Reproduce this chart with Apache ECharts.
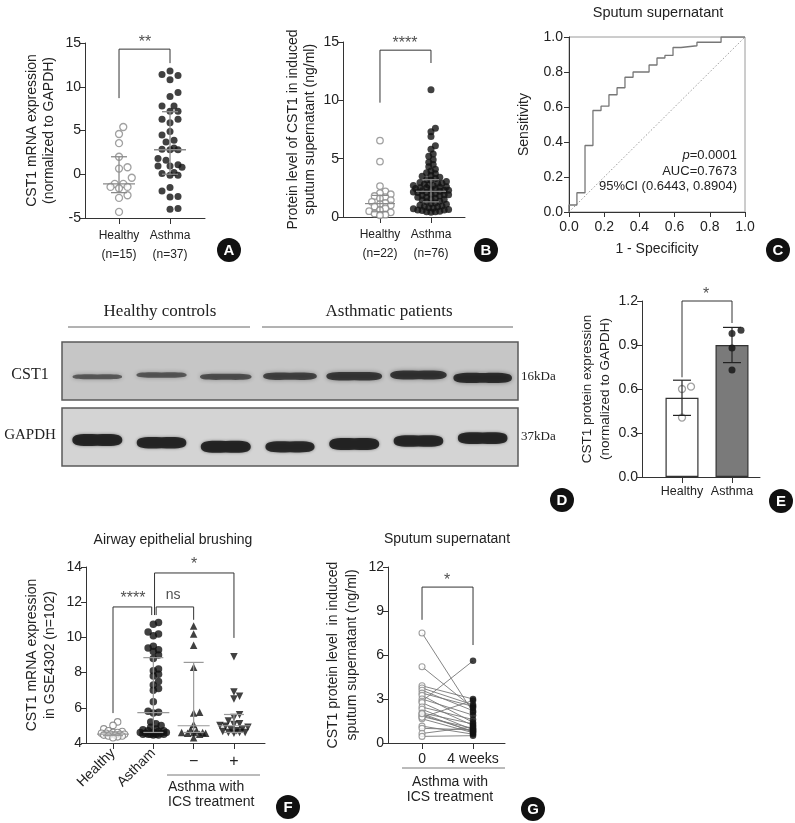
<!DOCTYPE html>
<html><head><meta charset="utf-8">
<script src="https://cdn.jsdelivr.net/npm/echarts@6/dist/echarts.min.js"></script>
<style>html,body{margin:0;padding:0;background:#fff}#c{width:795px;height:823px}</style>
</head><body><div id="c"></div>
<script>
// ================= DATA =================
// Panel A
const aCategories = ['Healthy', 'Asthma'];
const aCounts = ['(n=15)', '(n=37)'];
const aHealthy = [5.4, 4.6, 3.55, 2.0, 0.8, 0.65, -0.4, -1.1, -1.1, -1.45, -1.45, -1.6, -2.4, -2.7, -4.3];
const aAsthma = [11.8, 11.4, 11.3, 10.8, 9.35, 8.9, 7.8, 7.8, 7.2, 7.2, 6.3, 6.3, 5.9, 4.9, 4.5, 3.9, 3.7, 3.0, 2.85, 2.8, 2.8, 1.8, 1.6, 1.1, 0.95, 0.95, 0.8, 0.2, 0.1, -0.1, -0.1, -1.5, -1.9, -2.55, -2.6, -3.9, -4.0];
const aMedian = [-1.1, 2.8], aQ1 = [-2.1, 0.0], aQ3 = [2.0, 7.15];
const aYAxis = [-5, 15, 5];
// Panel B
const bCategories = ['Healthy', 'Asthma'];
const bCounts = ['(n=22)', '(n=76)'];
const bHealthy = [6.55, 4.75, 2.65, 2.2, 2.05, 1.95, 1.8, 1.7, 1.6, 1.45, 1.3, 1.2, 1.1, 1.0, 0.9, 0.75, 0.6, 0.5, 0.4, 0.3, 0.2, 0.15];
const bAsthma = [10.9, 7.6, 7.3, 6.9, 6.1, 5.8, 5.4, 5.2, 4.9, 4.7, 4.5, 4.3, 4.1, 3.95, 3.8, 3.7, 3.55, 3.5, 3.4, 3.3, 3.2, 3.15, 3.05, 2.95, 2.9, 2.9, 2.8, 2.75, 2.7, 2.7, 2.6, 2.55, 2.5, 2.5, 2.45, 2.4, 2.35, 2.3, 2.3, 2.25, 2.2, 2.15, 2.1, 2.1, 2.0, 1.95, 1.9, 1.9, 1.85, 1.8, 1.7, 1.7, 1.6, 1.55, 1.5, 1.45, 1.35, 1.3, 1.2, 1.15, 1.1, 1.0, 0.95, 0.9, 0.85, 0.8, 0.75, 0.7, 0.65, 0.6, 0.6, 0.55, 0.5, 0.45, 0.45, 0.4];
const bMedian = [1.15, 2.2], bQ1 = [0.45, 1.3], bQ3 = [1.85, 3.2];
const bYAxis = [0, 15, 5];
// Panel C (ROC)
const rocFpr = [0, 0, 0.045, 0.091, 0.136, 0.182, 0.227, 0.273, 0.318, 0.364, 0.455, 0.5, 0.545, 0.591, 0.636, 0.727, 0.864, 1.0];
const rocTpr = [0, 0.04, 0.11, 0.38, 0.58, 0.605, 0.67, 0.71, 0.77, 0.80, 0.84, 0.88, 0.895, 0.94, 0.95, 0.97, 1.0, 1.0];
const cAxis = [0, 1, 0.2];
const cStats = ['=0.0001', 'AUC=0.7673', '95%CI (0.6443, 0.8904)'];
// Panel D (western blot)
const blotGroups = ['Healthy controls', 'Asthmatic patients'];
const blotLanes = [1, 2, 3, 4, 5, 6, 7];
const cst1Intensity = [0.25, 0.3, 0.4, 0.55, 0.7, 0.75, 0.9];
const cst1BandY = [0.40, 0.43, 0.40, 0.41, 0.41, 0.43, 0.38];
const gapdhIntensity = [1.0, 0.95, 1.0, 0.9, 1.0, 0.95, 0.95];
const gapdhBandY = [0.45, 0.40, 0.33, 0.33, 0.38, 0.43, 0.48];
// Panel E
const eCategories = ['Healthy', 'Asthma'];
const eMean = [0.54, 0.90], eLow = [0.42, 0.78], eHigh = [0.66, 1.02];
const eHealthy = [0.616, 0.60, 0.405];
const eAsthma = [0.978, 1.0, 0.88, 0.73];
const eYAxis = [0, 1.2, 0.3];
// Panel F
const fCategories = ['Healthy', 'Astham', '\u2212', '+'];
const fHealthy = [5.2, 5.0, 4.8, 4.7, 4.65, 4.6, 4.6, 4.55, 4.55, 4.5, 4.5, 4.5, 4.45, 4.45, 4.4, 4.4, 4.35, 4.3];
const fAsthma = [10.85, 10.75, 10.3, 10.2, 10.1, 9.5, 9.4, 9.3, 9.2, 9.0, 8.8, 8.2, 8.1, 7.9, 7.8, 7.5, 7.3, 7.1, 7.0, 6.35, 5.8, 5.75, 5.7, 5.2, 5.1, 5.0, 4.9, 4.8, 4.75, 4.7, 4.65, 4.6, 4.6, 4.55, 4.55, 4.5, 4.5, 4.5, 4.5, 4.45, 4.45, 4.5, 4.6, 4.7];
const fNoICS = [10.65, 10.2, 9.55, 8.3, 5.75, 5.7, 5.05, 4.75, 4.7, 4.6, 4.6, 4.55, 4.55, 4.5, 4.3, 4.6];
const fICS = [8.9, 6.9, 6.65, 6.5, 5.6, 5.45, 5.25, 5.1, 5.05, 5.0, 4.95, 4.9, 4.8, 4.75, 4.7, 4.65, 4.6, 4.6, 4.55, 4.6];
const fMedian = [4.5, 5.73, 4.98, 4.98], fQ1 = [4.42, 4.6, 4.6, 4.6], fQ3 = [4.62, 8.85, 8.58, 5.62];
const fYAxis = [4, 14, 2];
// Panel G
const gCategories = ['0', '4 weeks'];
const gBefore = [7.5, 5.2, 3.9, 3.75, 3.6, 3.4, 3.25, 3.0, 2.85, 2.75, 2.45, 2.3, 2.05, 1.9, 1.8, 1.65, 1.75, 1.15, 1.0, 0.65, 0.45, 2.0];
const gAfter = [2.1, 2.4, 3.0, 2.6, 2.2, 2.5, 1.4, 1.9, 5.6, 1.2, 1.6, 0.9, 1.3, 0.8, 1.0, 0.7, 2.9, 0.6, 0.9, 1.1, 0.5, 0.75];
const gYAxis = [0, 12, 3];

// ================= LAYOUT / STYLE =================
const SANS = '"Liberation Sans", Arial, Helvetica, sans-serif';
const SERIF = '"Liberation Serif", "Times New Roman", serif';
const AX = '#333', TXT = '#222';
const G = {
  A: {left: 85, top: 43, width: 120, height: 175, xmin: 0.333, xmax: 2.686},
  B: {left: 343, top: 42, width: 122, height: 175, xmin: 0.275, xmax: 2.667},
  C: {left: 569, top: 37, width: 176, height: 175},
  D1: {left: 62, top: 342, width: 456, height: 58},
  D2: {left: 62, top: 408, width: 456, height: 58},
  E: {left: 642, top: 301, width: 118, height: 176, xmin: 0.2, xmax: 2.56},
  F: {left: 86, top: 567, width: 179, height: 176, xmin: 0.33, xmax: 4.77},
  G: {left: 388, top: 567, width: 117, height: 176, xmin: 0.333, xmax: 2.627}
};
function pxX(g) { return g.width / (g.xmax - g.xmin); }
function pxY(g, ax) { return g.height / (ax[1] - ax[0]); }

// beeswarm layout (pixel based) -> x jitter in axis units; half-width capped
function swarm(vals, cx, xPx, yPx, d, maxHalf) {
  const placed = [], out = [];
  const lim = maxHalf || 1e9;
  const idx = vals.map((v, i) => i).sort((a, b) => vals[a] - vals[b]);
  for (const i of idx) {
    const py = vals[i] * yPx;
    let best = null, bestGap = -1;
    for (let k = 0; k < 400; k++) {
      const s = Math.ceil(k / 2) * (k % 2 === 1 ? 1 : -1);
      const cand = s * d * 0.5;
      if (Math.abs(cand) > lim) break;
      const gap = placed.reduce((m, p) => Math.min(m, Math.hypot(p[0] - cand, p[1] - py)), 1e9);
      if (gap >= d * 0.95) { best = cand; break; }
      if (gap > bestGap + 0.01) { bestGap = gap; best = cand; }
    }
    placed.push([best, py]);
    out[i] = [cx + best / xPx, vals[i]];
  }
  return out;
}

const axisLine = {show: true, onZero: false, lineStyle: {color: AX, width: 1}};
function yAxisCfg(gi, ax, name, gap, extra) {
  return Object.assign({
    gridIndex: gi, type: 'value', min: ax[0], max: ax[1], interval: ax[2], position: 'left',
    axisLine, axisTick: {show: true, length: 5, lineStyle: {color: AX}},
    axisLabel: {color: TXT, fontSize: 14, fontFamily: SANS, margin: 4},
    splitLine: {show: false},
    name, nameLocation: 'middle', nameRotate: 90, nameGap: gap,
    nameTextStyle: {color: TXT, fontSize: 14, fontFamily: SANS, lineHeight: 17}
  }, extra || {});
}
function xCatAxis(gi, g, vals, labels, labelExtra, tickShow) {
  return {
    gridIndex: gi, type: 'value', min: g.xmin, max: g.xmax, position: 'bottom',
    axisLine: tickShow === false ? {show: false, onZero: false} : axisLine,
    axisTick: {show: tickShow !== false, length: 6, customValues: vals, lineStyle: {color: AX}},
    axisLabel: Object.assign({customValues: vals, color: TXT, fontFamily: SANS, fontSize: 12,
      formatter: v => labels[Math.round(v) - 1]}, labelExtra || {}),
    splitLine: {show: false}
  };
}

function errSeries(xi, yi, rows, halfMed, halfCap, color, z, lw) {
  return {
    type: 'custom', xAxisIndex: xi, yAxisIndex: yi, z: z, silent: true, clip: false,
    data: rows, encode: {x: 0, y: [1, 2, 3]},
    renderItem: (p, api) => {
      const x = api.value(0), m = api.value(1), lo = api.value(2), hi = api.value(3);
      const a = api.coord([x, m]), b = api.coord([x, lo]), c = api.coord([x, hi]);
      const st = {stroke: color, lineWidth: lw || 1.2, fill: null};
      const ch = [
        {type: 'line', shape: {x1: a[0], y1: b[1], x2: a[0], y2: c[1]}, style: st},
        {type: 'line', shape: {x1: a[0] - halfCap, y1: b[1], x2: a[0] + halfCap, y2: b[1]}, style: st},
        {type: 'line', shape: {x1: a[0] - halfCap, y1: c[1], x2: a[0] + halfCap, y2: c[1]}, style: st}
      ];
      if (halfMed) ch.push({type: 'line', shape: {x1: a[0] - halfMed, y1: a[1], x2: a[0] + halfMed, y2: a[1]}, style: st});
      return {type: 'group', children: ch};
    }
  };
}
function bracket(xi, yi, pts) {
  return {type: 'line', xAxisIndex: xi, yAxisIndex: yi, data: pts, symbol: 'none', silent: true, clip: false,
    lineStyle: {color: AX, width: 1}, z: 3};
}
function sigText(xi, yi, x, y, txt, size) {
  return {type: 'scatter', xAxisIndex: xi, yAxisIndex: yi, clip: false, silent: true, symbolSize: 1,
    itemStyle: {color: 'rgba(0,0,0,0)'},
    data: [{value: [x, y], name: txt}],
    label: {show: true, position: 'inside', formatter: '{b}', color: TXT, fontFamily: SANS, fontSize: size || 16}};
}
function dots(xi, yi, pts, opts) {
  return Object.assign({type: 'scatter', xAxisIndex: xi, yAxisIndex: yi, data: pts, clip: false, silent: true,
    symbolSize: 7, z: 4}, opts);
}
const openGray = {itemStyle: {color: '#fff', borderColor: '#8a8a8a', borderWidth: 1.3}};
const filled = {itemStyle: {color: '#111'}};

// ---------- build series ----------
const series = [];
// A
const gA = G.A;
series.push(errSeries(0, 0, aMedian.map((m, i) => [i + 1, m, aQ1[i], aQ3[i]]), 16, 8, '#8a8a8a', 6, 1.3));
series.push(dots(0, 0, swarm(aHealthy, 1, pxX(gA), pxY(gA, aYAxis), 8.5, 15), openGray));
series.push(dots(0, 0, swarm(aAsthma, 2, pxX(gA), pxY(gA, aYAxis), 8, 15), filled));
series.push(bracket(0, 0, [[1, 8.7], [1, 14.3], [2, 14.3], [2, 12.7]]));
series.push(sigText(0, 0, 1.51, 15.0, '**'));
// B
const gB = G.B;
series.push(errSeries(1, 1, bMedian.map((m, i) => [i + 1, m, bQ1[i], bQ3[i]]), 15, 8, '#8a8a8a', 5, 1.2));
series.push(dots(1, 1, swarm(bHealthy, 1, pxX(gB), pxY(gB, bYAxis), 5.4, 16), Object.assign({symbolSize: 6.5}, openGray)));
series.push(dots(1, 1, swarm(bAsthma, 2, pxX(gB), pxY(gB, bYAxis), 4.4, 19), Object.assign({symbolSize: 7, z: 3}, filled)));
series.push(bracket(1, 1, [[1, 9.8], [1, 14.3], [2, 14.3], [2, 13.2]]));
series.push(sigText(1, 1, 1.49, 14.9, '****'));
// C
series.push({type: 'line', xAxisIndex: 2, yAxisIndex: 2, data: [[0, 0], [1, 1]], symbol: 'none', silent: true,
  lineStyle: {color: '#9a9a9a', width: 1, type: [1.5, 2]}});
series.push({type: 'line', xAxisIndex: 2, yAxisIndex: 2, data: rocFpr.map((f, i) => [f, rocTpr[i]]), step: 'end',
  symbol: 'none', silent: true, lineStyle: {color: '#777', width: 1.3}});
// D blots
const bandPath = 'path://M0,50 C0,12 25,4 100,10 C175,4 200,12 200,50 C200,88 175,96 100,90 C25,96 0,88 0,50 Z';
function bandSeries(xi, yi, inten, ys, hBase, hGain, wBase, wGain, aBase, blur) {
  return {type: 'scatter', xAxisIndex: xi, yAxisIndex: yi, silent: true,
    data: blotLanes.map((l, i) => [l, ys[i], inten[i]]),
    symbol: bandPath,
    symbolSize: v => [wBase + wGain * v[2], hBase + hGain * v[2]],
    itemStyle: {color: p => 'rgba(12,12,12,' + (aBase + (1 - aBase) * p.value[2]).toFixed(2) + ')',
      shadowBlur: blur, shadowColor: 'rgba(0,0,0,0.55)'}};
}
series.push(bandSeries(3, 3, cst1Intensity, cst1BandY, 3, 8, 46, 14, 0.5, 4));
series.push(bandSeries(4, 4, gapdhIntensity, gapdhBandY, 4, 8, 42, 8, 0.7, 3));
// E
const gE = G.E;
series.push({type: 'bar', xAxisIndex: 5, yAxisIndex: 5, barWidth: 33, silent: true,
  data: eMean.map((m, i) => ({value: [i + 1, m], itemStyle: {color: i === 0 ? '#ffffff' : '#7a7a7a'}})),
  itemStyle: {borderColor: '#333', borderWidth: 1.2}});
series.push(errSeries(5, 5, eMean.map((m, i) => [i + 1, m, eLow[i], eHigh[i]]), 0, 9, '#222', 6, 1.2));
series.push(dots(5, 5, swarm(eHealthy, 1, pxX(gE), pxY(gE, eYAxis), 9), Object.assign({symbolSize: 7}, openGray)));
series.push(dots(5, 5, swarm(eAsthma, 2, pxX(gE), pxY(gE, eYAxis), 9), Object.assign({symbolSize: 7}, filled)));
series.push(bracket(5, 5, [[1, 0.68], [1, 1.2], [2, 1.2], [2, 1.05]]));
series.push(sigText(5, 5, 1.48, 1.245, '*'));
// F
const gF = G.F;
const fx = pxX(gF), fy = pxY(gF, fYAxis);
series.push(dots(6, 6, swarm(fHealthy, 1, fx, fy, 4.6, 13), Object.assign({symbolSize: 6.5}, {itemStyle: {color: '#fff', borderColor: '#777', borderWidth: 1.1}})));
series.push(dots(6, 6, swarm(fAsthma, 2, fx, fy, 5.2, 14), Object.assign({symbolSize: 7.5}, filled)));
series.push(dots(6, 6, swarm(fNoICS, 3, fx, fy, 6, 14), Object.assign({symbol: 'triangle', symbolSize: 7.5}, filled)));
series.push(dots(6, 6, swarm(fICS, 4, fx, fy, 5.6, 14), Object.assign({symbol: 'triangle', symbolRotate: 180, symbolSize: 7.5}, filled)));
series.push(errSeries(6, 6, fMedian.map((m, i) => [i + 1, m, fQ1[i], fQ3[i]]), 16, 10, '#999', 6, 1.2));
series.push(bracket(6, 6, [[1, 5.7], [1, 11.73], [1.96, 11.73], [1.96, 11.27]]));
series.push(bracket(6, 6, [[2.07, 11.27], [2.07, 11.73], [3, 11.73], [3, 11.0]]));
series.push(bracket(6, 6, [[2.03, 11.27], [2.03, 13.66], [4, 13.66], [4, 9.97]]));
series.push(sigText(6, 6, 1.495, 12.2, '****'));
series.push(sigText(6, 6, 2.49, 12.4, 'ns', 14));
series.push(sigText(6, 6, 3.01, 14.15, '*'));
// G
series.push({type: 'lines', coordinateSystem: 'cartesian2d', xAxisIndex: 8, yAxisIndex: 7, silent: true,
  data: gBefore.map((b, i) => ({coords: [[1, b], [2, gAfter[i]]]})),
  lineStyle: {color: '#777', width: 0.9, opacity: 1}, z: 2});
series.push(dots(8, 7, gBefore.map(v => [1, v]), Object.assign({symbolSize: 6}, {itemStyle: {color: '#fff', borderColor: '#888', borderWidth: 1.1}})));
series.push(dots(8, 7, gAfter.map(v => [2, v]), Object.assign({symbolSize: 6.5}, filled)));
series.push(bracket(8, 7, [[1, 8.4], [1, 10.63], [2, 10.63], [2, 6.68]]));
series.push(sigText(8, 7, 1.49, 11.1, '*'));

// ---------- axes ----------
const nLabel = (cats, counts) => ({fontSize: 12, lineHeight: 19, margin: 8,
  formatter: v => cats[Math.round(v) - 1] + '\n' + counts[Math.round(v) - 1]});
const xAxis = [
  xCatAxis(0, G.A, [1, 2], aCategories, nLabel(aCategories, aCounts)),
  xCatAxis(1, G.B, [1, 2], bCategories, nLabel(bCategories, bCounts)),
  {gridIndex: 2, type: 'value', min: cAxis[0], max: cAxis[1], interval: cAxis[2], axisLine, position: 'bottom',
    axisTick: {length: 5, lineStyle: {color: AX}}, splitLine: {show: false},
    axisLabel: {color: TXT, fontSize: 14, fontFamily: SANS, margin: 8, formatter: v => v.toFixed(1)},
    name: '1 - Specificity', nameLocation: 'middle', nameGap: 30,
    nameTextStyle: {color: TXT, fontSize: 14, fontFamily: SANS}},
  {gridIndex: 3, type: 'value', min: 0.45, max: 7.55, show: false},
  {gridIndex: 4, type: 'value', min: 0.45, max: 7.55, show: false},
  xCatAxis(5, G.E, [1, 2], eCategories, {fontSize: 12.5, margin: 8}),
  xCatAxis(6, G.F, [1, 2, 3, 4], fCategories, {customValues: [1, 2], rotate: 45, fontSize: 14, margin: 8}),
  xCatAxis(6, G.F, [3, 4], fCategories, {fontSize: 16, margin: 11}, false),
  xCatAxis(7, G.G, [1, 2], gCategories, {fontSize: 14, margin: 9})
];
const yAxis = [
  yAxisCfg(0, aYAxis, 'CST1 mRNA expression\n(normalized to GAPDH)', 27),
  yAxisCfg(1, bYAxis, 'Protein level of CST1 in induced\nsputum supernatant (ng/ml)', 24),
  yAxisCfg(2, [cAxis[0], cAxis[1], cAxis[2]], 'Sensitivity', 36, {axisLabel: {color: TXT, fontSize: 14, fontFamily: SANS, margin: 6, formatter: v => v.toFixed(1)}}),
  {gridIndex: 3, type: 'value', min: 0, max: 1, show: false},
  {gridIndex: 4, type: 'value', min: 0, max: 1, show: false},
  yAxisCfg(5, eYAxis, 'CST1 protein expression\n(normalized to GAPDH)', 26, {axisLabel: {color: TXT, fontSize: 14, fontFamily: SANS, margin: 4, formatter: v => v.toFixed(1)}, nameTextStyle: {color: TXT, fontSize: 13.5, fontFamily: SANS, lineHeight: 18}}),
  yAxisCfg(6, fYAxis, 'CST1 mRNA expression\nin GSE4302 (n=102)', 27, {nameTextStyle: {color: TXT, fontSize: 14, fontFamily: SANS, lineHeight: 18}}),
  yAxisCfg(7, gYAxis, 'CST1 protein level  in induced\nsputum supernatant (ng/ml)', 26, {nameTextStyle: {color: TXT, fontSize: 14, fontFamily: SANS, lineHeight: 19}})
];
const grid = [
  Object.assign({}, G.A), Object.assign({}, G.B),
  Object.assign({show: true, borderColor: '#9a9a9a', borderWidth: 1}, G.C),
  Object.assign({show: true, backgroundColor: '#c6c6c6', borderColor: '#5a5a5a', borderWidth: 1.5}, G.D1),
  Object.assign({show: true, backgroundColor: '#d4d4d4', borderColor: '#5a5a5a', borderWidth: 1.5}, G.D2),
  Object.assign({}, G.E), Object.assign({}, G.F), Object.assign({}, G.G)
].map(g => { const o = Object.assign({containLabel: false}, g); delete o.xmin; delete o.xmax; return o; });

// ---------- graphic (texts / panel badges) ----------
function badge(letter, x, y) {
  return {type: 'group', x, y, children: [
    {type: 'circle', shape: {cx: 0, cy: 0, r: 12}, style: {fill: '#111'}},
    {type: 'text', style: {text: letter, x: 0, y: 0.5, align: 'center', verticalAlign: 'middle', fill: '#fff',
      font: 'bold 15px ' + SANS}}]};
}
function txt(t, x, y, font, align, extra) {
  return {type: 'text', style: Object.assign({text: t, x, y, font, fill: TXT, align: align || 'center', verticalAlign: 'middle'}, extra || {})};
}
const f14 = '14px ' + SANS;
const graphic = [
  txt('Sputum supernatant', 658, 13, '14.5px ' + SANS),
  {type: 'text', style: {x: 737, y: 155, align: 'right', verticalAlign: 'middle', fill: TXT,
    text: '{i|p}{n|' + cStats[0] + '}', rich: {i: {font: 'italic 13px ' + SANS, fill: TXT}, n: {font: '13px ' + SANS, fill: TXT}}}},
  txt(cStats[1], 737, 171, '13px ' + SANS, 'right'),
  txt(cStats[2], 737, 186, '13px ' + SANS, 'right'),
  txt(blotGroups[0], 160, 312, '17px ' + SERIF),
  txt(blotGroups[1], 389, 312, '17px ' + SERIF),
  {type: 'line', shape: {x1: 68, y1: 327, x2: 250, y2: 327}, style: {stroke: '#666', lineWidth: 1}},
  {type: 'line', shape: {x1: 262, y1: 327, x2: 513, y2: 327}, style: {stroke: '#666', lineWidth: 1}},
  txt('CST1', 30, 375, '16px ' + SERIF),
  txt('GAPDH', 30, 435, '15px ' + SERIF),
  txt('16kDa', 521, 377, '13px ' + SERIF, 'left'),
  txt('37kDa', 521, 437, '13px ' + SERIF, 'left'),
  txt('Airway epithelial brushing', 173, 540, f14),
  {type: 'line', shape: {x1: 167, y1: 775, x2: 260, y2: 775}, style: {stroke: '#777', lineWidth: 1}},
  txt('Asthma with', 168, 787, f14, 'left'),
  txt('ICS treatment', 168, 802, f14, 'left'),
  txt('Sputum supernatant', 447, 539, f14),
  {type: 'line', shape: {x1: 402, y1: 768, x2: 505, y2: 768}, style: {stroke: '#777', lineWidth: 1}},
  txt('Asthma with', 450, 782, f14),
  txt('ICS treatment', 450, 797, f14),
  badge('A', 229, 250), badge('B', 486, 250), badge('C', 778, 250),
  badge('D', 562, 500), badge('E', 781, 501), badge('F', 288, 807), badge('G', 533, 809)
];

const chart = echarts.init(document.getElementById('c'));
chart.setOption({
  animation: false,
  backgroundColor: '#fff',
  textStyle: {fontFamily: SANS},
  grid, xAxis, yAxis, series, graphic
});
</script></body></html>
